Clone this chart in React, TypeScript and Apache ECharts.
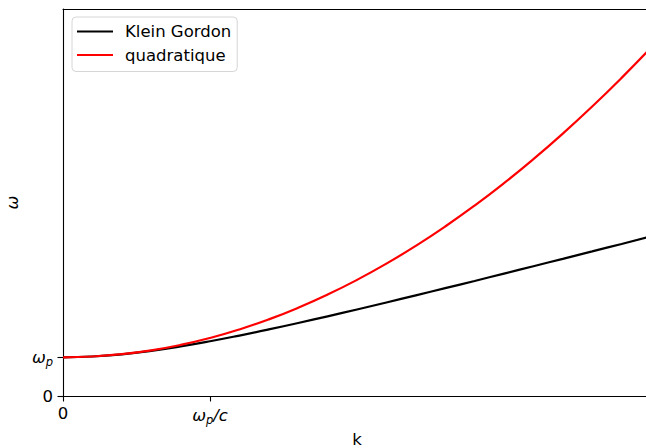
import React, { useEffect, useRef } from "react";
import * as echarts from "echarts";

const kValues = [0, 0.2, 0.4, 0.6, 0.8, 1.0, 1.2, 1.4, 1.6, 1.8, 2.0, 2.2, 2.4, 2.6, 2.8, 3.0, 3.2, 3.4, 3.6, 3.8, 4.0];
const kleinGordon = [1.0, 1.02, 1.077, 1.166, 1.281, 1.414, 1.562, 1.72, 1.887, 2.059, 2.236, 2.417, 2.6, 2.786, 2.973, 3.162, 3.353, 3.544, 3.736, 3.929, 4.123];
const quadratique = [1.0, 1.02, 1.08, 1.18, 1.32, 1.5, 1.72, 1.98, 2.28, 2.62, 3.0, 3.42, 3.88, 4.38, 4.92, 5.5, 6.12, 6.78, 7.48, 8.22, 9.0];
const seriesNames = ["Klein Gordon", "quadratique"];
const xTickValues = [0, 1];
const xTickLabels = ["0", "{i|ω}{sub|p}{i|/c}"];
const yTickValues = [0, 1];
const yTickLabels = ["0", "{i|ω}{sub|p}"];

const FONT = "DejaVu Sans";
const FS = 16.5;

export default function App() {
  const ref = useRef<HTMLDivElement>(null);
  useEffect(() => {
    if (!ref.current) return;
    const chart = echarts.init(ref.current, undefined, { renderer: "svg" });
    const rich = {
      i: { fontFamily: FONT, fontStyle: "italic", fontSize: FS, color: "#000" },
      sub: { fontFamily: FONT, fontStyle: "italic", fontSize: 11.5, color: "#000", padding: [9, 0, 0, 0] },
    };
    chart.setOption({
      animation: false,
      backgroundColor: "#fff",
      grid: { left: 63, top: 9, right: -5, bottom: 52, containLabel: false, outerBoundsMode: "none" },
      legend: {
        left: 72,
        top: 17,
        orient: "vertical",
        data: seriesNames,
        icon: "rect",
        itemWidth: 36,
        itemHeight: 2.2,
        itemGap: 6.5,
        padding: [6, 6, 8, 5],
        backgroundColor: "rgba(255,255,255,0.8)",
        borderColor: "#d6d6d6",
        borderWidth: 1,
        borderRadius: 4,
        textStyle: { fontFamily: FONT, fontSize: FS, color: "#000", padding: [0, 0, 0, 7] },
      },
      xAxis: [
        {
          type: "value",
          min: 0,
          max: 4,
          name: "k",
          nameLocation: "middle",
          nameGap: 35,
          nameTextStyle: { fontFamily: FONT, fontSize: FS, color: "#000" },
          axisLine: { show: true, onZero: false, lineStyle: { color: "#000", width: 1.1 } },
          axisTick: { show: true, length: 5.5, customValues: xTickValues, lineStyle: { color: "#000", width: 1.1 } },
          axisLabel: {
            show: true,
            margin: 9,
            customValues: xTickValues,
            fontFamily: FONT,
            fontSize: FS,
            color: "#000",
            formatter: (v: number) => xTickLabels[xTickValues.indexOf(v)] ?? "",
            rich,
          },
          splitLine: { show: false },
        },
        {
          type: "value",
          position: "top",
          min: 0,
          max: 4,
          axisLine: { show: true, onZero: false, lineStyle: { color: "#000", width: 1.1 } },
          axisTick: { show: false },
          axisLabel: { show: false },
          splitLine: { show: false },
        },
      ],
      yAxis: {
        type: "value",
        min: 0,
        max: 10,
        name: "ω",
        nameLocation: "middle",
        nameRotate: 90,
        nameGap: 41,
        nameTextStyle: { fontFamily: FONT, fontSize: FS, fontStyle: "italic", color: "#000" },
        axisLine: { show: true, onZero: false, lineStyle: { color: "#000", width: 1.1 } },
        axisTick: { show: true, length: 5.5, customValues: yTickValues, lineStyle: { color: "#000", width: 1.1 } },
        axisLabel: {
          show: true,
          margin: 10,
          customValues: yTickValues,
          fontFamily: FONT,
          fontSize: FS,
          color: "#000",
          formatter: (v: number) => yTickLabels[yTickValues.indexOf(v)] ?? "",
          rich,
        },
        splitLine: { show: false },
      },
      series: [
        {
          name: seriesNames[0],
          type: "line",
          xAxisIndex: 0,
          data: kValues.map((k, i) => [k, kleinGordon[i]]),
          symbol: "none",
          smooth: true,
          lineStyle: { color: "#000000", width: 2.2 },
          itemStyle: { color: "#000000" },
        },
        {
          name: seriesNames[1],
          type: "line",
          xAxisIndex: 0,
          data: kValues.map((k, i) => [k, quadratique[i]]),
          symbol: "none",
          smooth: true,
          lineStyle: { color: "#ff0000", width: 2.2 },
          itemStyle: { color: "#ff0000" },
        },
      ],
    });
    return () => chart.dispose();
  }, []);
  return (
    <div
      ref={ref}
      style={{ position: "fixed", left: 0, top: 0, width: 646, height: 448, background: "#fff", overflow: "hidden" }}
    />
  );
}
